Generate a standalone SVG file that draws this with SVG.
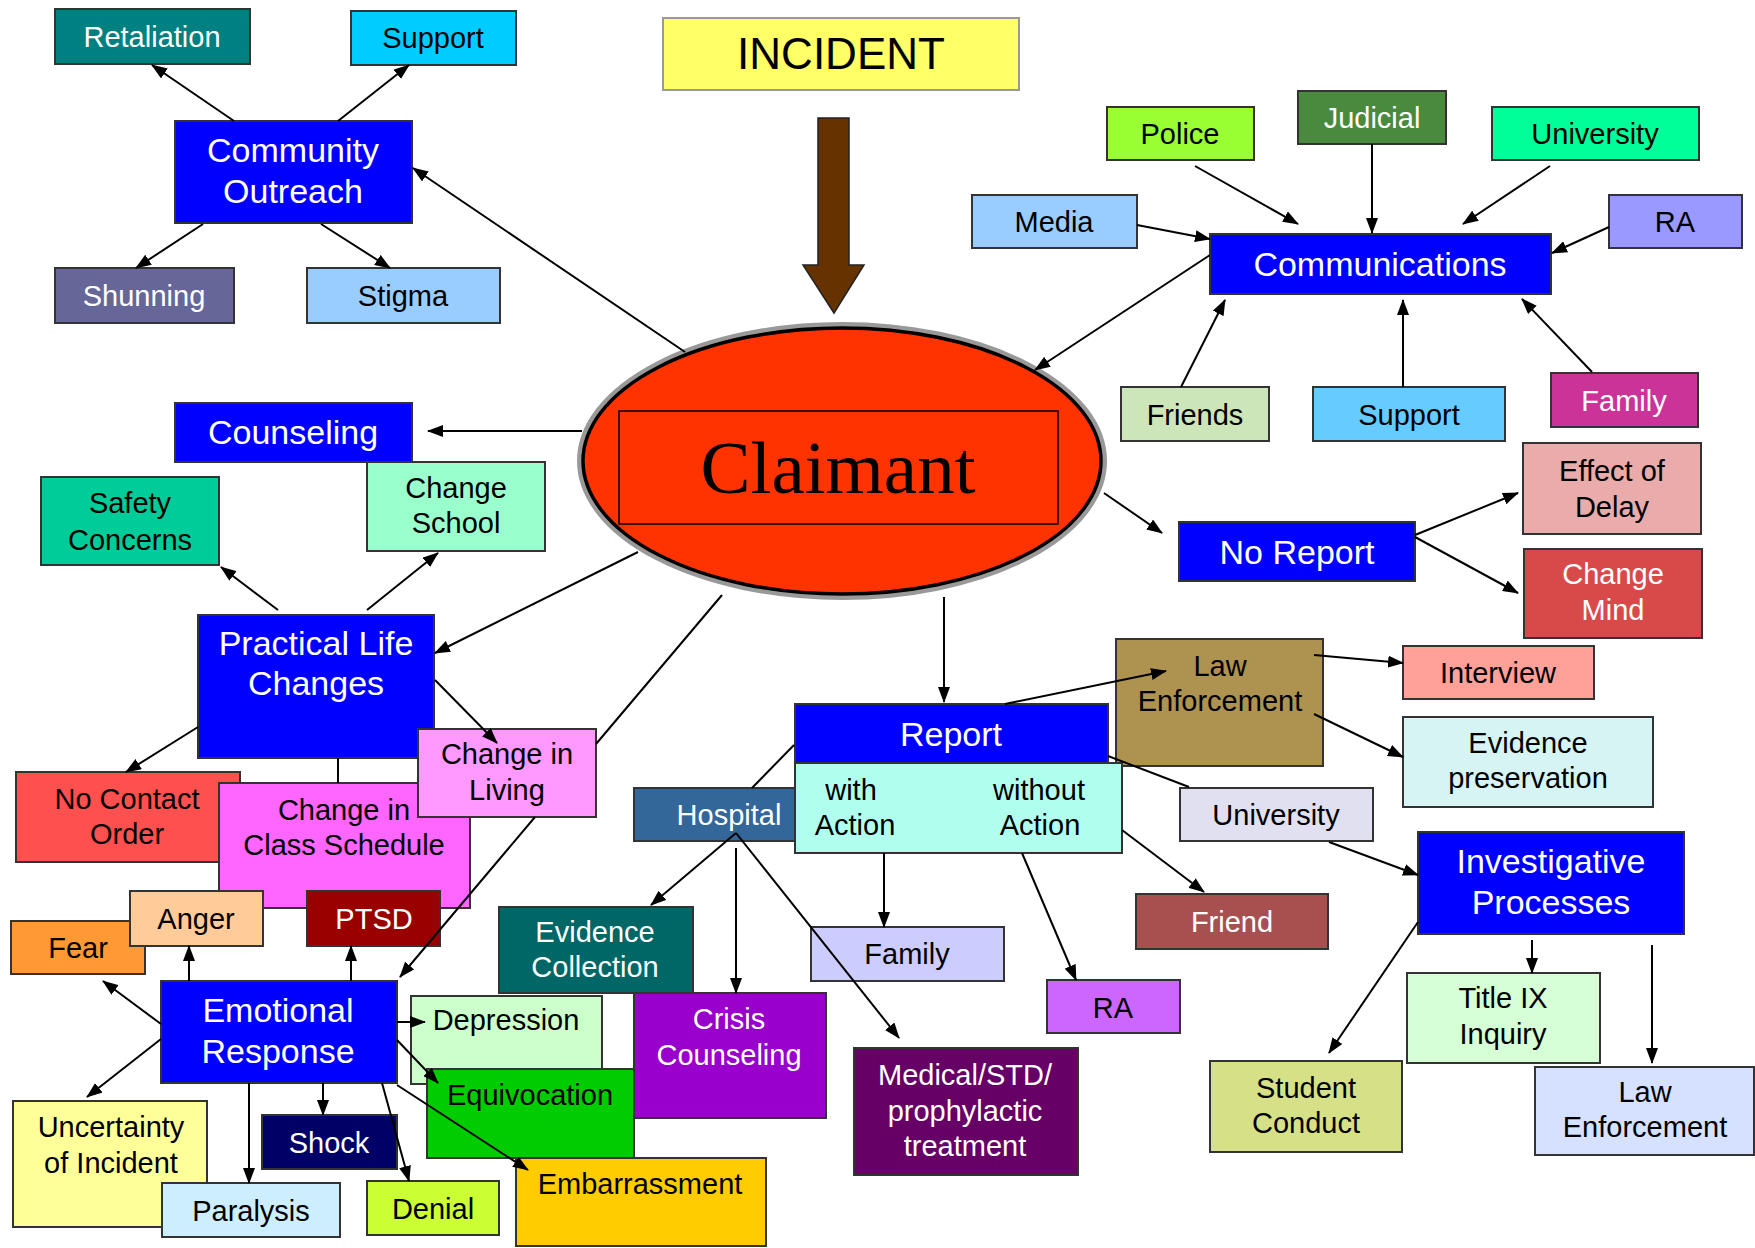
<svg xmlns="http://www.w3.org/2000/svg" width="1755" height="1248" viewBox="0 0 1755 1248">
<defs>
<marker id="ah" markerUnits="userSpaceOnUse" markerWidth="16" markerHeight="12" refX="15" refY="6" orient="auto">
<path d="M0,0 L16,6 L0,12 z" fill="#000"/>
</marker>
<style>
rect.n{stroke:#333;stroke-width:2}
text{font-family:"Liberation Sans",Arial,sans-serif;font-size:29px;text-anchor:middle;fill:#000}
text.w{fill:#fff}
text.b{font-size:34px}
.c line,.c path{stroke:#000;stroke-width:2;fill:none}
.c .a{marker-end:url(#ah)}
</style>
</defs>
<rect width="1755" height="1248" fill="#fff"/>

<g id="nodes">
<g id="retaliation"><rect class="n" x="55" y="9" width="195" height="55" fill="#008080"/><text class="w" x="152" y="47">Retaliation</text></g>
<g id="support-top"><rect class="n" x="351" y="11" width="165" height="54" fill="#00CCFF"/><text x="433" y="48">Support</text></g>
<g id="community-outreach"><rect class="n" x="175" y="121" width="237" height="102" fill="#0000FF"/><text class="w b" x="293" y="162">Community</text><text class="w b" x="293" y="203">Outreach</text></g>
<g id="shunning"><rect class="n" x="55" y="268" width="179" height="55" fill="#666699"/><text class="w" x="144" y="306">Shunning</text></g>
<g id="stigma"><rect class="n" x="307" y="268" width="193" height="55" fill="#99CCFF"/><text x="403" y="306">Stigma</text></g>
<g id="incident"><rect x="663" y="18" width="356" height="72" fill="#FFFF66" stroke="#999" stroke-width="2"/><text x="841" y="69" style="font-size:44px">INCIDENT</text></g>
<g id="police"><rect class="n" x="1107" y="107" width="147" height="53" fill="#99FF33"/><text x="1180" y="144">Police</text></g>
<g id="judicial"><rect class="n" x="1298" y="91" width="148" height="53" fill="#4A8A3F"/><text class="w" x="1372" y="128">Judicial</text></g>
<g id="university-top"><rect class="n" x="1492" y="107" width="207" height="53" fill="#00FF99"/><text x="1595" y="144">University</text></g>
<g id="media"><rect class="n" x="972" y="195" width="165" height="53" fill="#99CCFF"/><text x="1054" y="232">Media</text></g>
<g id="ra-top"><rect class="n" x="1609" y="195" width="133" height="53" fill="#9999FF"/><text x="1675" y="232">RA</text></g>
<g id="communications"><rect class="n" x="1210" y="234" width="341" height="60" fill="#0000FF"/><text class="w b" x="1380" y="276">Communications</text></g>
<g id="friends"><rect class="n" x="1121" y="387" width="148" height="54" fill="#CCE6BA"/><text x="1195" y="425">Friends</text></g>
<g id="support-right"><rect class="n" x="1313" y="387" width="192" height="54" fill="#66CCFF"/><text x="1409" y="425">Support</text></g>
<g id="family-right"><rect class="n" x="1551" y="373" width="147" height="54" fill="#CC3399"/><text class="w" x="1624" y="411">Family</text></g>
<g id="claimant">
<ellipse cx="842" cy="461" rx="262" ry="136" fill="none" stroke="#999" stroke-width="6"/>
<ellipse cx="842" cy="461" rx="259" ry="133" fill="#FF3300" stroke="#000" stroke-width="3.5"/>
<rect x="619" y="411" width="439" height="113" fill="none" stroke="#000" stroke-width="1.5"/>
<text x="838" y="493" style="font-family:'Liberation Serif','Times New Roman',serif;font-size:75px">Claimant</text>
</g>
<g id="counseling"><rect class="n" x="175" y="403" width="237" height="59" fill="#0000FF"/><text class="w b" x="293" y="444">Counseling</text></g>
<g id="safety-concerns"><rect class="n" x="41" y="477" width="178" height="88" fill="#00CC99"/><text x="130" y="513">Safety</text><text x="130" y="550">Concerns</text></g>
<g id="change-school"><rect class="n" x="367" y="462" width="178" height="89" fill="#99FFCC"/><text x="456" y="498">Change</text><text x="456" y="533">School</text></g>
<g id="no-report"><rect class="n" x="1179" y="522" width="236" height="59" fill="#0000FF"/><text class="w b" x="1297" y="564">No Report</text></g>
<g id="effect-of-delay"><rect class="n" x="1523" y="443" width="178" height="91" fill="#EAABAB"/><text x="1612" y="481">Effect of</text><text x="1612" y="517">Delay</text></g>
<g id="change-mind"><rect class="n" x="1524" y="549" width="178" height="89" fill="#D84A4A"/><text class="w" x="1613" y="584">Change</text><text class="w" x="1613" y="620">Mind</text></g>
<g id="practical-life-changes"><rect class="n" x="198" y="615" width="236" height="143" fill="#0000FF"/><text class="w b" x="316" y="655">Practical Life</text><text class="w b" x="316" y="695">Changes</text></g>
<g id="no-contact-order"><rect class="n" x="16" y="772" width="224" height="90" fill="#FF5050"/><text x="127" y="809">No Contact</text><text x="127" y="844">Order</text></g>
<g id="class-schedule"><rect class="n" x="219" y="783" width="251" height="125" fill="#FF66FF"/><text x="344" y="820">Change in</text><text x="344" y="855">Class Schedule</text></g>
<g id="change-in-living"><rect class="n" x="418" y="729" width="178" height="88" fill="#FF99FF"/><text x="507" y="764">Change in</text><text x="507" y="800">Living</text></g>
<g id="law-enforcement-mid"><rect class="n" x="1116" y="639" width="207" height="127" fill="#AD934F"/><text x="1220" y="676">Law</text><text x="1220" y="711">Enforcement</text></g>
<g id="interview"><rect class="n" x="1403" y="646" width="191" height="53" fill="#FFA099"/><text x="1498" y="683">Interview</text></g>
<g id="evidence-preservation"><rect class="n" x="1403" y="717" width="250" height="90" fill="#D6F4F4"/><text x="1528" y="753">Evidence</text><text x="1528" y="788">preservation</text></g>
<g id="hospital"><rect class="n" x="634" y="788" width="190" height="53" fill="#336699"/><text class="w" x="729" y="825">Hospital</text></g>
<g id="report"><rect class="n" x="795" y="704" width="313" height="59" fill="#0000FF"/><text class="w b" x="951" y="746">Report</text></g>
<g id="report-action"><rect class="n" x="795" y="763" width="327" height="90" fill="#B0FFEE"/><text x="851" y="800">with</text><text x="855" y="835">Action</text><text x="1039" y="800">without</text><text x="1040" y="835">Action</text></g>
<g id="university-mid"><rect class="n" x="1180" y="788" width="193" height="53" fill="#E0E0F0"/><text x="1276" y="825">University</text></g>
<g id="investigative-processes"><rect class="n" x="1418" y="832" width="266" height="102" fill="#0000FF"/><text class="w b" x="1551" y="873">Investigative</text><text class="w b" x="1551" y="914">Processes</text></g>
<g id="friend"><rect class="n" x="1136" y="894" width="192" height="55" fill="#A85050"/><text class="w" x="1232" y="932">Friend</text></g>
<g id="fear"><rect class="n" x="11" y="921" width="134" height="53" fill="#FF9933"/><text x="78" y="958">Fear</text></g>
<g id="anger"><rect class="n" x="130" y="891" width="133" height="55" fill="#FFCC99"/><text x="196" y="929">Anger</text></g>
<g id="ptsd"><rect class="n" x="307" y="891" width="133" height="55" fill="#990000"/><text class="w" x="374" y="929">PTSD</text></g>
<g id="evidence-collection"><rect class="n" x="499" y="907" width="194" height="86" fill="#006666"/><text class="w" x="595" y="942">Evidence</text><text class="w" x="595" y="977">Collection</text></g>
<g id="emotional-response"><rect class="n" x="161" y="981" width="236" height="102" fill="#0000FF"/><text class="w b" x="278" y="1022">Emotional</text><text class="w b" x="278" y="1063">Response</text></g>
<g id="depression"><rect class="n" x="411" y="996" width="191" height="88" fill="#CCFFCC"/><text x="506" y="1030">Depression</text></g>
<g id="equivocation"><rect class="n" x="427" y="1069" width="207" height="89" fill="#00CC00"/><text x="530" y="1105">Equivocation</text></g>
<g id="crisis-counseling"><rect class="n" x="634" y="993" width="192" height="125" fill="#9900CC"/><text class="w" x="729" y="1029">Crisis</text><text class="w" x="729" y="1065">Counseling</text></g>
<g id="family-mid"><rect class="n" x="811" y="927" width="193" height="54" fill="#CCCCFF"/><text x="907" y="964">Family</text></g>
<g id="ra-mid"><rect class="n" x="1047" y="980" width="133" height="53" fill="#CC66FF"/><text x="1113" y="1018">RA</text></g>
<g id="medical"><rect class="n" x="854" y="1048" width="224" height="127" fill="#660066"/><text class="w" x="965" y="1085">Medical/STD/</text><text class="w" x="965" y="1121">prophylactic</text><text class="w" x="965" y="1156">treatment</text></g>
<g id="student-conduct"><rect class="n" x="1210" y="1061" width="192" height="91" fill="#D6E087"/><text x="1306" y="1098">Student</text><text x="1306" y="1133">Conduct</text></g>
<g id="title-ix"><rect class="n" x="1407" y="973" width="193" height="90" fill="#D6FFD6"/><text x="1503" y="1008">Title IX</text><text x="1503" y="1044">Inquiry</text></g>
<g id="law-enforcement-bottom"><rect class="n" x="1535" y="1067" width="219" height="88" fill="#D6E0FF"/><text x="1645" y="1102">Law</text><text x="1645" y="1137">Enforcement</text></g>
<g id="uncertainty"><rect class="n" x="13" y="1101" width="194" height="126" fill="#FFFF99"/><text x="111" y="1137">Uncertainty</text><text x="111" y="1173">of Incident</text></g>
<g id="shock"><rect class="n" x="262" y="1115" width="135" height="54" fill="#000066"/><text class="w" x="329" y="1153">Shock</text></g>
<g id="paralysis"><rect class="n" x="162" y="1183" width="178" height="54" fill="#CCEEFF"/><text x="251" y="1221">Paralysis</text></g>
<g id="denial"><rect class="n" x="367" y="1181" width="132" height="54" fill="#CCFF33"/><text x="433" y="1219">Denial</text></g>
<g id="embarrassment"><rect class="n" x="516" y="1158" width="250" height="88" fill="#FFCC00"/><text x="640" y="1194">Embarrassment</text></g>
</g>

<g id="connectors" class="c">
<polygon points="818,118 849,118 849,265 864,265 834,313 803,265 818,265" fill="#663300" stroke="#222" stroke-width="1.5"/>
<line class="a" x1="234" y1="121" x2="152" y2="65"/>
<line class="a" x1="338" y1="121" x2="409" y2="65"/>
<line class="a" x1="203" y1="224" x2="136" y2="268"/>
<line class="a" x1="321" y1="224" x2="390" y2="268"/>
<line class="a" x1="685" y1="352" x2="413" y2="168"/>
<line class="a" x1="582" y1="431" x2="428" y2="431"/>
<line class="a" x1="1210" y1="255" x2="1035" y2="370"/>
<line class="a" x1="1195" y1="166" x2="1298" y2="224"/>
<line class="a" x1="1372" y1="144" x2="1372" y2="233"/>
<line class="a" x1="1550" y1="166" x2="1463" y2="224"/>
<line class="a" x1="1609" y1="227" x2="1552" y2="253"/>
<line class="a" x1="1137" y1="225" x2="1210" y2="239"/>
<line class="a" x1="1181" y1="387" x2="1225" y2="300"/>
<line class="a" x1="1403" y1="387" x2="1403" y2="300"/>
<line class="a" x1="1592" y1="372" x2="1522" y2="299"/>
<line class="a" x1="1104" y1="493" x2="1162" y2="533"/>
<line class="a" x1="1415" y1="535" x2="1518" y2="493"/>
<line class="a" x1="1415" y1="537" x2="1518" y2="593"/>
<line class="a" x1="944" y1="597" x2="944" y2="702"/>
<line class="a" x1="1005" y1="704" x2="1166" y2="671"/>
<line class="a" x1="1314" y1="655" x2="1403" y2="663"/>
<line class="a" x1="1314" y1="714" x2="1403" y2="757"/>
<line x1="1108" y1="756" x2="1189" y2="787"/>
<line class="a" x1="1329" y1="842" x2="1418" y2="875"/>
<line class="a" x1="1418" y1="922" x2="1329" y2="1053"/>
<line class="a" x1="1532" y1="940" x2="1532" y2="973"/>
<line class="a" x1="1652" y1="945" x2="1652" y2="1063"/>
<line class="a" x1="1122" y1="830" x2="1204" y2="892"/>
<line class="a" x1="884" y1="853" x2="884" y2="927"/>
<line class="a" x1="1022" y1="853" x2="1076" y2="980"/>
<line x1="794" y1="745" x2="752" y2="788"/>
<line class="a" x1="736" y1="833" x2="651" y2="905"/>
<line class="a" x1="736" y1="848" x2="736" y2="993"/>
<line class="a" x1="736" y1="833" x2="899" y2="1038"/>
<line class="a" x1="638" y1="552" x2="435" y2="653"/>
<line class="a" x1="278" y1="610" x2="221" y2="567"/>
<line class="a" x1="367" y1="610" x2="438" y2="553"/>
<line class="a" x1="435" y1="680" x2="497" y2="743"/>
<line class="a" x1="198" y1="727" x2="126" y2="772"/>
<line x1="338" y1="758" x2="338" y2="783"/>
<path class="a" d="M722,595 L596,744 M535,817 L400,977"/>
<line class="a" x1="189" y1="981" x2="189" y2="946"/>
<line class="a" x1="351" y1="981" x2="351" y2="946"/>
<line class="a" x1="161" y1="1024" x2="103" y2="981"/>
<line class="a" x1="161" y1="1039" x2="87" y2="1097"/>
<line class="a" x1="249" y1="1083" x2="249" y2="1183"/>
<line class="a" x1="323" y1="1083" x2="323" y2="1115"/>
<line class="a" x1="382" y1="1083" x2="409" y2="1181"/>
<line class="a" x1="397" y1="1022" x2="425" y2="1022"/>
<line class="a" x1="397" y1="1040" x2="438" y2="1083"/>
<line class="a" x1="397" y1="1085" x2="528" y2="1170"/>
</g>
</svg>
